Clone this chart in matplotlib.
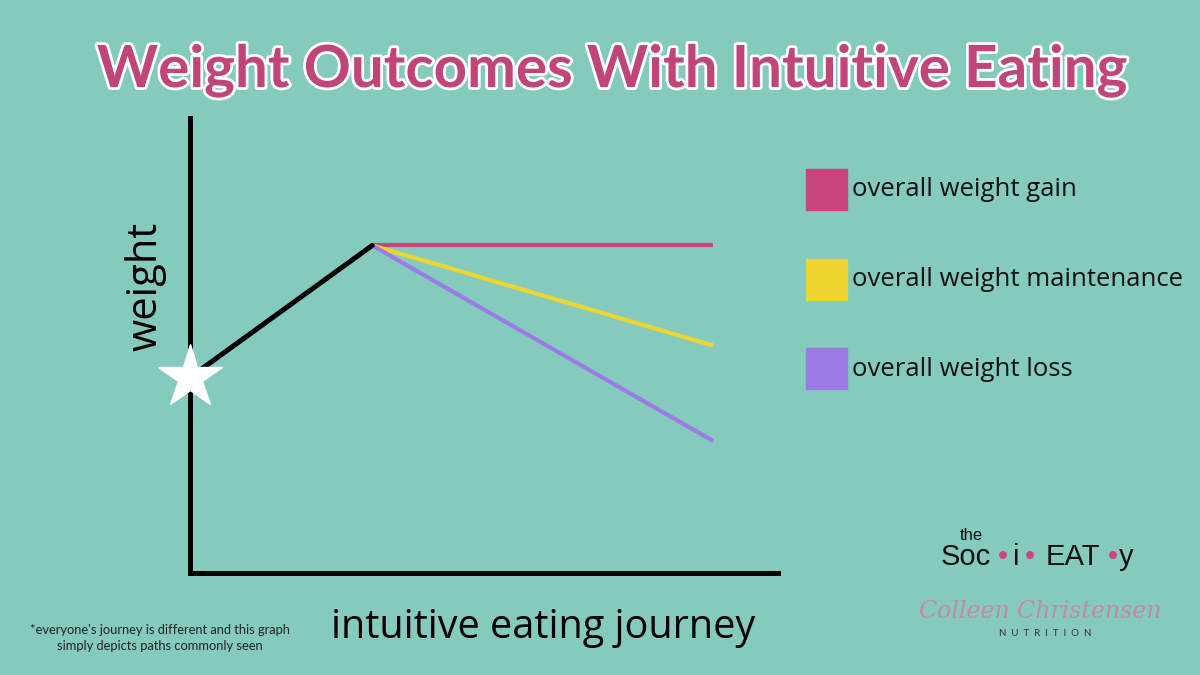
import matplotlib.pyplot as plt
import matplotlib.patheffects as pe
from matplotlib.patches import Rectangle

# path data (arbitrary units: journey 0-10, weight 0-10)
journey = [0.0, 3.1]
weight = [4.3, 7.2]
end_x = 8.9
outcomes = ["overall weight gain", "overall weight maintenance", "overall weight loss"]
end_weights = [7.2, 5.0, 2.9]
colors = ["#C9437C", "#EED52F", "#9D7BE6"]

bg = "#84CBBD"
plt.rcParams['font.family'] = ['Lato', 'DejaVu Sans']

fig = plt.figure(figsize=(12, 6.75), dpi=100, facecolor=bg)
ax = fig.add_axes([0.1583, 0.1511, 0.49, 0.674])
ax.set_facecolor(bg)
ax.set_xlim(0, 10)
ax.set_ylim(0, 10)
for s in ['top', 'right']:
    ax.spines[s].set_visible(False)
for s in ['left', 'bottom']:
    ax.spines[s].set_linewidth(3.6)
    ax.spines[s].set_color('black')
ax.set_xticks([])
ax.set_yticks([])

# outcome lines from the peak
for w, c in zip(end_weights, colors):
    ax.plot([journey[1], end_x], [weight[1], w], color=c, lw=3, solid_capstyle='butt')
ax.plot(journey, weight, color='black', lw=3.6, solid_capstyle='round')
ax.plot(journey[0], weight[0], marker='*', color='white', markersize=48, clip_on=False, zorder=5)

ax.set_xlabel("intuitive eating journey", fontsize=28.5, family='Open Sans')
ax.xaxis.set_label_coords(0.60, -0.076)
ax.set_ylabel("weight", fontsize=30, family='Open Sans')
ax.yaxis.set_label_coords(-0.04, 0.629)

# title
fig.text(0.51, 0.895, "Weight Outcomes With Intuitive Eating", ha='center', va='center',
         fontsize=42, fontweight='bold', color="#C2457A",
         path_effects=[pe.withStroke(linewidth=4, foreground='white')])

# legend
ys = [190, 280, 369]
for lab, c, y in zip(outcomes, colors, ys):
    fig.add_artist(Rectangle((806 / 1200, 1 - (y + 20) / 675), 41 / 1200, 41 / 675,
                             transform=fig.transFigure, color=c))
    fig.text(852 / 1200, 1 - y / 675, lab, fontsize=18.5, va='center', ha='left',
             color='#111111', family='Open Sans')

# footnote
fig.text(160 / 1200, 1 - 638 / 675,
         "*everyone's journey is different and this graph\nsimply depicts paths commonly seen",
         fontsize=9.3, ha='center', va='center', linespacing=1.3, color='#222222')

# logo
fig.text(960 / 1200, 1 - 535 / 675, "the", fontsize=12, ha='left', va='center',
         color='#111111', family='Liberation Sans')
parts = [("Soc", 966, '#111111'), ("\u2022", 1003, '#D1427E'), ("i", 1016, '#111111'),
         ("\u2022", 1030, '#D1427E'), ("EAT", 1073, '#111111'), ("\u2022", 1113, '#D1427E'),
         ("y", 1126, '#111111')]
for t, x, c in parts:
    fig.text(x / 1200, 1 - 557 / 675, t, fontsize=21, ha='center', va='center',
             color=c, family='Liberation Sans')
fig.text(1040 / 1200, 1 - 612 / 675, "Colleen Christensen", fontsize=17, ha='center', va='center',
         color='#C48BA0', style='italic', family='DejaVu Serif')
fig.text(1045 / 1200, 1 - 634 / 675, "N  U  T  R  I  T  I  O  N", fontsize=7, ha='center', va='center',
         color='#333333')

fig.savefig("out.png", dpi=100, facecolor=bg)
